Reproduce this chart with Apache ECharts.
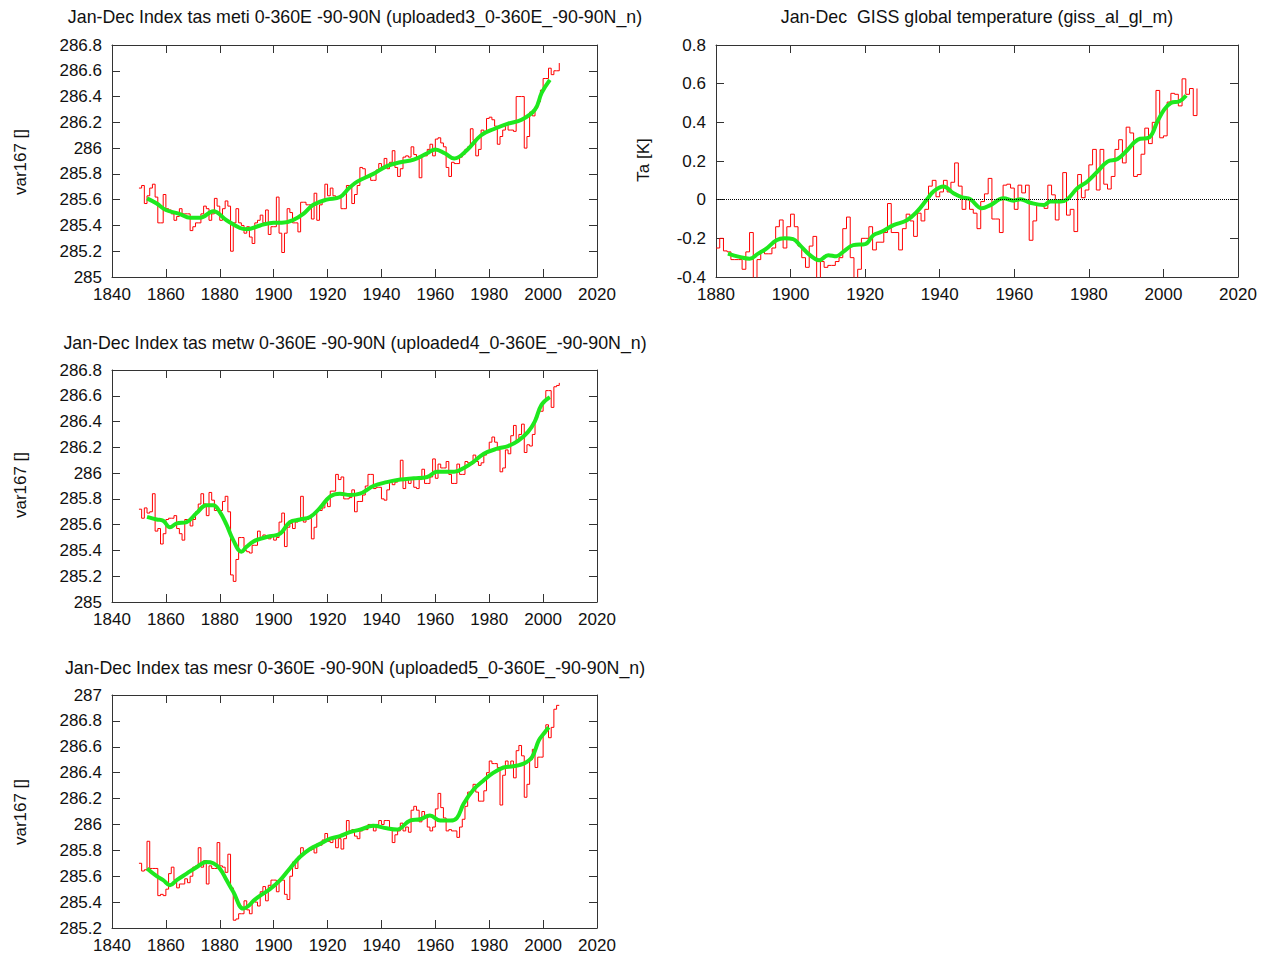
<!DOCTYPE html>
<html><head><meta charset="utf-8">
<script src="https://cdn.jsdelivr.net/npm/echarts@6/dist/echarts.min.js"></script>
<style>html,body{margin:0;padding:0;background:#fff}#c{width:1271px;height:958px}</style>
</head><body><div id="c"></div>
<script>
// ---------------- data ----------------
const metiFirstYear = 1850;
const metiValues = [
285.69,285.71,285.57,285.63,285.69,285.72,285.62,285.42,285.42,285.64,
285.53,285.52,285.49,285.44,285.47,285.53,285.49,285.49,285.49,285.36,
285.39,285.42,285.42,285.49,285.55,285.53,285.44,285.49,285.61,285.55,
285.44,285.53,285.59,285.55,285.20,285.42,285.53,285.42,285.40,285.34,
285.39,285.31,285.26,285.42,285.44,285.48,285.42,285.52,285.33,285.39,
285.39,285.62,285.34,285.19,285.34,285.53,285.50,285.42,285.42,285.35,
285.58,285.58,285.56,285.56,285.45,285.65,285.44,285.56,285.59,285.72,
285.63,285.69,285.63,285.62,285.62,285.53,285.53,285.71,285.71,285.57,
285.64,285.71,285.85,285.84,285.78,285.78,285.75,285.75,285.83,285.88,
285.84,285.92,285.84,285.89,285.98,285.85,285.78,285.84,285.93,285.94,
285.93,286.01,285.95,285.93,285.77,285.95,285.94,285.99,286.03,285.94,
286.07,286.08,286.04,286.01,285.85,285.78,285.89,285.88,285.88,285.93,
285.95,285.99,286.01,286.15,286.06,285.94,285.99,286.14,286.13,286.23,
286.24,286.22,286.17,286.03,286.09,286.14,286.19,286.14,286.14,286.13,
286.40,286.40,286.40,286.00,286.09,286.28,286.25,286.31,286.36,286.45,
286.54,286.54,286.62,286.57,286.60,286.60,286.66];
const metiSmoothYears = [1853,1856.6,1860,1865,1869,1872.7,1877.6,1882.5,1887.5,1890,1895,1900,1903,1907,1911,1914.7,1919.7,1924.6,1928,1931,1937,1942,1947,1952,1957,1960,1963.5,1967,1972,1977,1982,1987,1992,1997,1999.5,2002.5];
const metiSmoothValues = [285.61,285.57,285.52,285.49,285.46,285.46,285.51,285.44,285.38,285.37,285.40,285.42,285.42,285.44,285.49,285.56,285.60,285.62,285.69,285.74,285.80,285.86,285.89,285.91,285.96,285.99,285.96,285.92,285.99,286.10,286.15,286.19,286.22,286.30,286.43,286.53];

const gissFirstYear = 1880;
const gissValues = [
-0.25,-0.20,-0.265,-0.27,-0.31,-0.31,-0.31,-0.36,-0.27,-0.17,
-0.41,-0.31,-0.27,-0.28,-0.28,-0.25,-0.14,-0.105,-0.25,-0.14,
-0.075,-0.14,-0.24,-0.30,-0.35,-0.24,-0.19,-0.41,-0.32,-0.35,
-0.34,-0.34,-0.32,-0.30,-0.15,-0.09,-0.30,-0.41,-0.36,-0.20,
-0.20,-0.14,-0.26,-0.22,-0.22,-0.17,-0.02,-0.17,-0.17,-0.26,
-0.15,-0.075,-0.11,-0.19,-0.07,-0.11,-0.05,0.07,0.10,0.015,
0.04,0.10,0.04,0.09,0.19,0.07,-0.05,0.0,-0.05,-0.07,
-0.15,-0.01,0.03,0.11,-0.10,-0.10,-0.17,0.075,0.08,0.06,
-0.05,0.075,0.035,0.075,-0.21,-0.11,-0.03,-0.02,-0.045,0.075,
0.025,-0.105,0.0,0.14,-0.08,-0.05,-0.165,0.13,0.01,0.05,
0.18,0.26,0.05,0.26,0.08,0.055,0.12,0.26,0.31,0.19,
0.375,0.345,0.12,0.13,0.235,0.37,0.29,0.40,0.565,0.32,
0.33,0.505,0.55,0.545,0.485,0.625,0.545,0.575,0.435,0.575];
const gissSmoothYears = [1883.2,1886.3,1889,1891.3,1893.5,1896.2,1898.4,1900.7,1902.5,1905.2,1907.7,1910.1,1912.3,1914.1,1916.8,1920,1922.2,1924.4,1927.6,1931.2,1933.9,1936.6,1938.3,1941,1943.7,1946,1948.2,1951.3,1953.6,1957.1,1959.8,1961.6,1964.3,1967.9,1969.7,1972.4,1974.2,1976.9,1979.6,1982.3,1985,1987.7,1990.4,1993.1,1996.2,1998.4,2000.2,2002,2004.3,2006.1];
const gissSmoothValues = [-0.279,-0.296,-0.305,-0.279,-0.253,-0.21,-0.20,-0.204,-0.235,-0.287,-0.313,-0.287,-0.293,-0.27,-0.235,-0.23,-0.184,-0.166,-0.132,-0.106,-0.062,0.002,0.042,0.068,0.033,0.012,0.002,-0.045,-0.028,0.007,-0.005,0.002,-0.016,-0.028,-0.01,-0.01,0.002,0.059,0.094,0.145,0.197,0.21,0.258,0.31,0.322,0.405,0.466,0.50,0.509,0.539];

const metwFirstYear = 1850;
const metwValues = [
285.72,285.65,285.73,285.69,285.70,285.84,285.55,285.57,285.45,285.53,
285.64,285.65,285.65,285.67,285.57,285.53,285.48,285.64,285.64,285.59,
285.64,285.70,285.76,285.84,285.76,285.67,285.85,285.79,285.71,285.71,
285.71,285.78,285.82,285.70,285.21,285.16,285.33,285.50,285.50,285.40,
285.39,285.38,285.44,285.44,285.55,285.49,285.52,285.50,285.49,285.52,
285.48,285.50,285.62,285.69,285.43,285.58,285.61,285.57,285.62,285.64,
285.82,285.62,285.64,285.65,285.49,285.58,285.71,285.71,285.73,285.77,
285.74,285.86,285.86,285.99,285.95,285.97,285.80,285.80,285.81,285.87,
285.70,285.78,285.78,285.83,285.90,285.99,285.99,285.88,285.89,285.89,
285.80,285.79,285.87,285.93,285.91,285.93,285.95,286.10,285.88,285.95,
285.92,285.95,285.89,285.88,285.95,286.03,285.92,285.92,285.97,286.11,
285.96,286.07,286.04,286.04,286.09,285.99,285.92,285.92,286.07,285.99,
285.99,286.09,286.08,286.07,286.14,286.09,286.06,286.08,286.14,286.16,
286.24,286.28,286.24,286.18,286.01,286.04,286.18,286.15,286.29,286.37,
286.25,286.30,286.38,286.16,286.22,286.21,286.30,286.43,286.48,286.48,
286.56,286.64,286.64,286.51,286.67,286.68,286.70];
const metwSmoothYears = [1853,1856.6,1859,1861.5,1864,1867.7,1871.4,1875,1877.6,1880,1882.5,1885,1888,1890,1892.5,1895,1898.6,1902.4,1906,1909.8,1913.5,1917.2,1921,1924.6,1928.3,1932,1937,1942,1947,1952,1957,1960.6,1963,1967,1970.6,1974.3,1978,1983,1987,1990.7,1994.4,1996.9,1999.4,2002.5];
const metwSmoothValues = [285.66,285.64,285.63,285.58,285.61,285.62,285.69,285.75,285.75,285.70,285.60,285.48,285.39,285.43,285.47,285.49,285.51,285.53,285.62,285.64,285.66,285.73,285.82,285.84,285.83,285.84,285.90,285.93,285.95,285.96,285.97,286.01,286.01,286.01,286.04,286.09,286.15,286.19,286.21,286.25,286.32,286.40,286.53,286.59];

const mesrFirstYear = 1850;
const mesrValues = [
285.70,285.64,285.65,285.87,285.66,285.66,285.66,285.45,285.46,285.45,
285.50,285.62,285.67,285.57,285.51,285.54,285.54,285.58,285.55,285.60,
285.67,285.68,285.82,285.67,285.72,285.54,285.68,285.66,285.66,285.86,
285.68,285.67,285.63,285.77,285.51,285.26,285.27,285.31,285.31,285.41,
285.34,285.31,285.41,285.40,285.37,285.48,285.52,285.41,285.53,285.57,
285.57,285.48,285.57,285.57,285.46,285.42,285.60,285.71,285.66,285.75,
285.82,285.79,285.80,285.80,285.81,285.78,285.85,285.84,285.88,285.93,
285.87,285.86,285.89,285.82,285.89,285.81,285.89,286.03,285.95,285.96,
285.91,285.89,285.95,285.96,285.96,286.00,286.00,285.95,286.00,286.03,
286.00,286.03,286.03,285.96,285.86,285.92,285.95,286.01,285.95,285.98,
285.94,286.11,286.14,286.11,286.02,286.10,286.07,285.98,285.95,285.98,
286.12,286.24,286.13,286.05,285.95,285.96,285.95,285.95,285.90,285.98,
286.04,286.14,286.25,286.25,286.31,286.25,286.18,286.18,286.26,286.40,
286.49,286.47,286.47,286.44,286.15,286.38,286.49,286.44,286.49,286.36,
286.57,286.61,286.53,286.21,286.31,286.50,286.58,286.44,286.52,286.52,
286.70,286.77,286.67,286.75,286.89,286.92,286.92];
const mesrSmoothYears = [1853,1856.6,1859,1861.5,1864,1867.7,1871.4,1875,1877.6,1880,1882.5,1885,1888.7,1890.6,1892.5,1895,1898.6,1902.4,1906,1909.8,1913.5,1917.2,1921,1924.6,1928.3,1932,1937,1942,1945.7,1950.6,1954.4,1958,1961.8,1965.5,1968,1970.5,1974.2,1977.9,1981.6,1985.3,1989,1992.8,1995.9,1998.4,2000.2,2002.1];
const mesrSmoothValues = [285.66,285.60,285.57,285.53,285.57,285.62,285.67,285.71,285.70,285.66,285.57,285.48,285.35,285.37,285.41,285.45,285.50,285.57,285.66,285.75,285.81,285.85,285.89,285.91,285.94,285.96,285.99,285.97,285.96,286.03,286.04,286.07,286.03,286.03,286.05,286.16,286.27,286.34,286.40,286.44,286.45,286.47,286.52,286.65,286.70,286.75];

const titles = [
  'Jan-Dec Index tas meti 0-360E -90-90N (uploaded3_0-360E_-90-90N_n)',
  'Jan-Dec  GISS global temperature (giss_al_gl_m)',
  'Jan-Dec Index tas metw 0-360E -90-90N (uploaded4_0-360E_-90-90N_n)',
  'Jan-Dec Index tas mesr 0-360E -90-90N (uploaded5_0-360E_-90-90N_n)'
];
const yNames = ['var167 []', 'Ta [K]', 'var167 []', 'var167 []'];

// ---------------- helpers ----------------
function yearPairs(first, vals){ return vals.map((v,i)=>[first+i, v]); }
function pairs(xs, ys){ return xs.map((x,i)=>[x, ys[i]]); }

const FONT = 'Liberation Sans';
const AX = '#333';
const grids = [
  {left:112, top:45, width:485, height:232},
  {left:716, top:45, width:522, height:232},
  {left:112, top:370, width:485, height:232},
  {left:112, top:695, width:485, height:233}
];
const xr = [[1840,2020],[1880,2020],[1840,2020],[1840,2020]];
const yr = [[285,286.8],[-0.4,0.8],[285,286.8],[285.2,287]];

const xAxis = [], yAxis = [];
grids.forEach((g,i)=>{
  const common = {gridIndex:i, type:'value', min:xr[i][0], max:xr[i][1], interval:20,
    axisLine:{show:true, onZero:false, lineStyle:{color:AX, width:1}},
    axisTick:{show:true, inside:true, length:8, lineStyle:{color:AX}},
    splitLine:{show:false}};
  xAxis.push(Object.assign({}, common, {position:'bottom',
    axisLabel:{show:true, fontFamily:FONT, fontSize:17, color:'#111', margin:9, showMinLabel:true, showMaxLabel:true,
      formatter: v => String(Math.round(v))}}));
  xAxis.push(Object.assign({}, common, {position:'top', axisLabel:{show:false}}));
  const ycommon = {gridIndex:i, type:'value', min:yr[i][0], max:yr[i][1], interval:0.2,
    axisLine:{show:true, onZero:false, lineStyle:{color:AX, width:1}},
    axisTick:{show:true, inside:true, length:8, lineStyle:{color:AX}},
    splitLine:{show:false}};
  yAxis.push(Object.assign({}, ycommon, {position:'left',
    axisLabel:{show:true, fontFamily:FONT, fontSize:17, color:'#111', margin:10, showMinLabel:true, showMaxLabel:true,
      formatter: v => String(Math.round(v*10)/10)}}));
  yAxis.push(Object.assign({}, ycommon, {position:'right', axisLabel:{show:false}}));
});

const redSets = [yearPairs(metiFirstYear, metiValues), yearPairs(gissFirstYear, gissValues),
                 yearPairs(metwFirstYear, metwValues), yearPairs(mesrFirstYear, mesrValues)];
const greenSets = [pairs(metiSmoothYears, metiSmoothValues), pairs(gissSmoothYears, gissSmoothValues),
                   pairs(metwSmoothYears, metwSmoothValues), pairs(mesrSmoothYears, mesrSmoothValues)];

const series = [];
for (let i=0;i<4;i++){
  const red = {type:'line', xAxisIndex:2*i, yAxisIndex:2*i, data:redSets[i], step:'end',
    symbol:'none', animation:false, clip:true,
    lineStyle:{color:'#ff0000', width:1}};
  if (i===1){
    red.markLine = {silent:true, symbol:['none','none'], label:{show:false},
      lineStyle:{color:'#000', type:'dotted', width:1}, data:[{yAxis:0}]};
  }
  series.push(red);
  series.push({type:'line', xAxisIndex:2*i, yAxisIndex:2*i, data:greenSets[i], smooth:0.4,
    symbol:'none', animation:false, clip:true,
    lineStyle:{color:'#1ee81e', width:4}});
}

const graphic = [];
const titlePos = [[355,17],[977,17],[355,343],[355,668]];
titles.forEach((t,i)=>graphic.push({type:'text', x:titlePos[i][0], y:titlePos[i][1],
  style:{text:t, fill:'#111', font:'17.8px "'+FONT+'"', textAlign:'center', textVerticalAlign:'middle'}}));
const yNamePos = [[20,162],[643,160],[20,485],[20,812]];
yNames.forEach((t,i)=>graphic.push({type:'text', x:yNamePos[i][0], y:yNamePos[i][1], rotation:Math.PI/2,
  style:{text:t, fill:'#111', font:'17px "'+FONT+'"', textAlign:'center', textVerticalAlign:'middle'}}));

const chart = echarts.init(document.getElementById('c'), null, {renderer:'svg'});
chart.setOption({animation:false, backgroundColor:'#fff', grid:grids, xAxis, yAxis, series, graphic});
</script></body></html>
